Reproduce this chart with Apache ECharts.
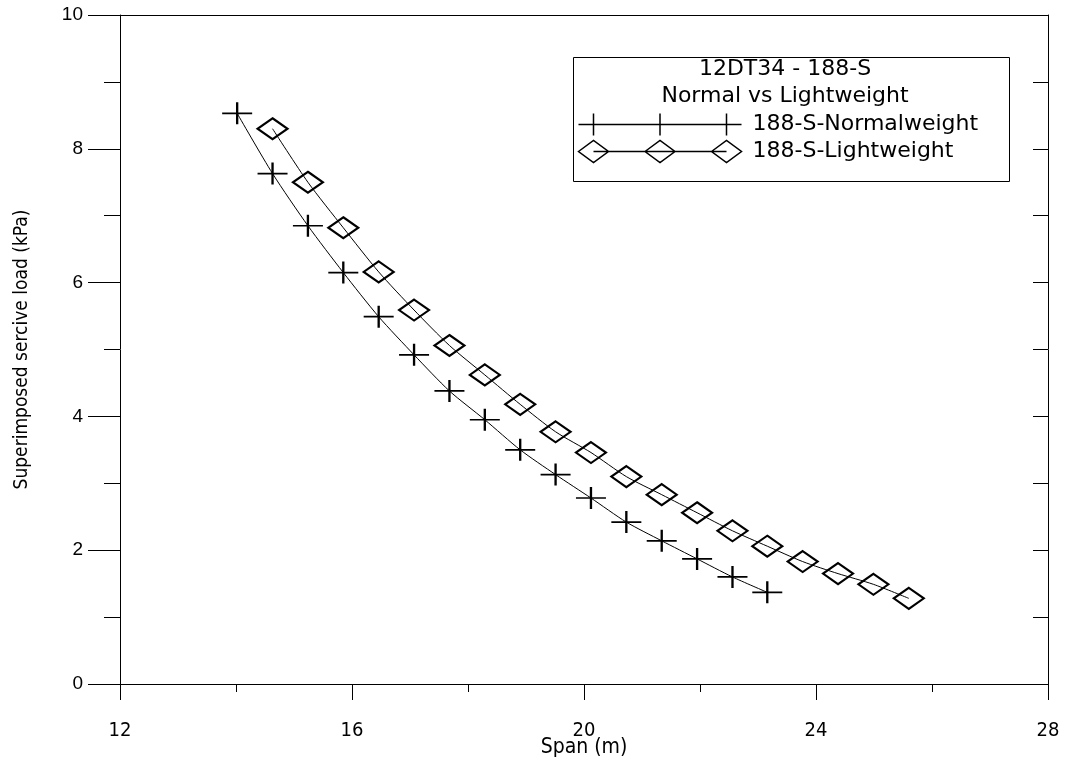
<!DOCTYPE html>
<html>
<head>
<meta charset="utf-8">
<script src="https://cdn.jsdelivr.net/npm/echarts@6/dist/echarts.min.js"></script>
<style>
  html, body { margin: 0; padding: 0; background: #fff; }
  #chart { width: 1069px; height: 763px; }
</style>
</head>
<body>
<div id="chart"></div>
<script>
// Span (m) and superimposed service load (kPa) for the 12DT34 188-S section
const spanNormal = [14.02, 14.63, 15.24, 15.85, 16.46, 17.07, 17.68, 18.29, 18.90, 19.51, 20.12, 20.73, 21.34, 21.95, 22.56, 23.16];
const loadNormal = [8.53, 7.63, 6.85, 6.15, 5.49, 4.92, 4.38, 3.95, 3.50, 3.13, 2.78, 2.42, 2.14, 1.87, 1.60, 1.37];

const spanLight = [14.63, 15.24, 15.85, 16.46, 17.07, 17.68, 18.29, 18.90, 19.51, 20.12, 20.73, 21.34, 21.95, 22.56, 23.16, 23.77, 24.38, 24.99, 25.60];
const loadLight = [8.30, 7.50, 6.82, 6.16, 5.59, 5.06, 4.62, 4.18, 3.77, 3.46, 3.10, 2.83, 2.56, 2.29, 2.06, 1.83, 1.65, 1.49, 1.28];

const seriesNames = ['188-S-Normalweight', '188-S-Lightweight'];
const legendTitle = ['12DT34 - 188-S', 'Normal vs Lightweight'];
const xTitle = 'Span (m)';
const yTitle = 'Superimposed sercive load (kPa)';

const xRange = [12, 28], xStep = 4;
const yRange = [0, 10], yStep = 2;

const narrowFont = "'Liberation Sans Narrow', 'DejaVu Sans Condensed', 'Liberation Sans', Arial, sans-serif";
const plainFont = "'Liberation Sans', Arial, sans-serif";
const legendFont = "'DejaVu Sans', 'Liberation Sans', sans-serif";

// Marker shapes
const crossSymbol = 'path://M0,11H30M15,0V22';
const crossLegend = 'path://M15,11H148M0,11H30M15,0V22M66.5,11H96.5M81.5,0V22M133,11H163M148,0V22';
const diamondLegend = 'path://M15,11H148M0,11L15,0L30,11L15,22ZM66.5,11L81.5,0L96.5,11L81.5,22ZM133,11L148,0L163,11L148,22Z';

const toPairs = (xs, ys) => xs.map((x, i) => [x, ys[i]]);

const black = '#000';
const chart = echarts.init(document.getElementById('chart'), null, { renderer: 'canvas' });

chart.setOption({
  backgroundColor: '#fff',
  animation: false,
  grid: { left: 120, right: 21, top: 15, bottom: 79, outerBoundsMode: 'none' },
  xAxis: [
    {
      type: 'value', position: 'bottom', min: xRange[0], max: xRange[1], interval: xStep,
      axisLine: { show: true, onZero: false, lineStyle: { color: black, width: 1 } },
      axisTick: { show: true, inside: false, length: 16, lineStyle: { color: black } },
      minorTick: { show: true, splitNumber: 2, length: 8, lineStyle: { color: black } },
      splitLine: { show: false }, minorSplitLine: { show: false },
      axisLabel: { margin: 37, fontSize: 20, color: black, fontFamily: narrowFont },
      name: xTitle, nameLocation: 'middle', nameGap: 53, nameMoveOverlap: false,
      nameTextStyle: { fontSize: 21, color: black, fontFamily: narrowFont }
    },
    {
      type: 'value', position: 'top', min: xRange[0], max: xRange[1], interval: xStep,
      axisLine: { show: true, onZero: false, lineStyle: { color: black, width: 1 } },
      axisTick: { show: false }, axisLabel: { show: false }, splitLine: { show: false }
    }
  ],
  yAxis: [
    {
      type: 'value', position: 'left', min: yRange[0], max: yRange[1], interval: yStep,
      axisLine: { show: true, onZero: false, lineStyle: { color: black, width: 1 } },
      axisTick: { show: true, inside: false, length: 32, lineStyle: { color: black } },
      minorTick: { show: true, splitNumber: 2, length: 16, lineStyle: { color: black } },
      splitLine: { show: false }, minorSplitLine: { show: false },
      axisLabel: { margin: 37, fontSize: 19, color: black, fontFamily: plainFont },
      name: yTitle, nameLocation: 'middle', nameGap: 88, nameRotate: 90, nameMoveOverlap: false,
      nameTextStyle: { fontSize: 19, color: black, fontFamily: narrowFont }
    },
    {
      type: 'value', position: 'right', min: yRange[0], max: yRange[1], interval: 1,
      axisLine: { show: true, onZero: false, lineStyle: { color: black, width: 1 } },
      axisTick: { show: true, inside: true, length: 15, lineStyle: { color: black } },
      axisLabel: { show: false }, splitLine: { show: false }
    }
  ],
  legend: {
    orient: 'vertical', left: 571, top: 106,
    itemWidth: 163, itemHeight: 22, itemGap: 0,
    selectedMode: false,
    textStyle: { fontFamily: legendFont, fontSize: 22, lineHeight: 22, color: black, padding: [0, 0, 0, 6] },
    data: [
      { name: seriesNames[0], icon: crossLegend, itemStyle: { color: 'none', borderColor: black, borderWidth: 1.5 } },
      { name: seriesNames[1], icon: diamondLegend, itemStyle: { color: 'none', borderColor: black, borderWidth: 1.5 } }
    ]
  },
  graphic: [
    {
      type: 'rect', left: 571, top: 55, z: 10, silent: true,
      shape: { width: 436, height: 124 },
      style: { fill: 'none', stroke: black, lineWidth: 1 }
    },
    {
      type: 'text', x: 785, y: 69, z: 11, silent: true,
      style: { text: legendTitle[0], fill: black, font: "22px 'DejaVu Sans', sans-serif", textAlign: 'center', textVerticalAlign: 'middle' }
    },
    {
      type: 'text', x: 785, y: 96, z: 11, silent: true,
      style: { text: legendTitle[1], fill: black, font: "22px 'DejaVu Sans', sans-serif", textAlign: 'center', textVerticalAlign: 'middle' }
    }
  ],
  series: [
    {
      name: seriesNames[0], type: 'line', xAxisIndex: 0, yAxisIndex: 0,
      data: toPairs(spanNormal, loadNormal),
      smooth: 0.25, showAllSymbol: true,
      symbol: crossSymbol, symbolSize: [30, 22], symbolKeepAspect: false,
      itemStyle: { color: 'none', borderColor: black, borderWidth: 2 },
      lineStyle: { color: black, width: 1 },
      emphasis: { disabled: true }
    },
    {
      name: seriesNames[1], type: 'line', xAxisIndex: 0, yAxisIndex: 0,
      data: toPairs(spanLight, loadLight),
      smooth: 0.25, showAllSymbol: true,
      symbol: 'diamond', symbolSize: [30, 21],
      itemStyle: { color: 'none', borderColor: black, borderWidth: 2.2 },
      lineStyle: { color: black, width: 1 },
      emphasis: { disabled: true }
    }
  ]
});
</script>
</body>
</html>
